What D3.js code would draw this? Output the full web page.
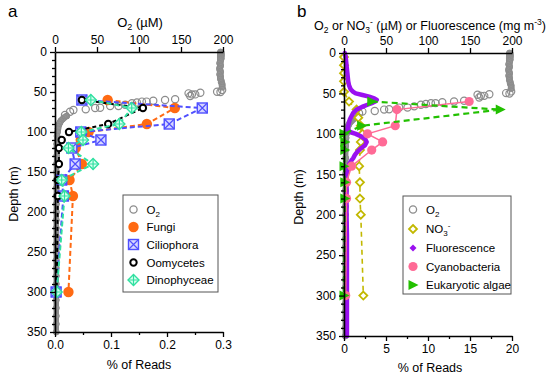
<!DOCTYPE html>
<html><head><meta charset="utf-8">
<script src="https://cdn.jsdelivr.net/npm/d3@7"></script>
<style>
body{margin:0;background:#fff;}
text{font-family:"Liberation Sans",Arial,sans-serif;}
</style></head>
<body>
<svg id="chart" width="550" height="378"></svg>
<script>
// ---------- DATA ----------
const sampleDepths = [60,70,90,100,110,120,140,160,180,300];
const fungi      = [0.094,0.214,0.164,0.060,0.046,0.037,0.048,0.026,0.032,0.024];
const ciliophora = [0.048,0.263,0.204,0.046,0.082,0.030,0.036,0.012,0.015,0.002];
const oomycetes  = [0.048,0.157,0.095,0.025,0.012,0.007,0.007,0.005,0.005,0.003];
const dinophyceae= [0.064,0.137,0.115,0.047,0.050,0.024,0.068,0.012,0.017,0.003];

const cyanobacteria = [14.9,6.3,6.1,2.8,4.6,3.3,0.9,0.3,0.3,0.2];
const eukAlgae      = [3.3,18.6,2.1,0.0,0.1,0.1,0.0,0.1,0.1,0.0];

const no3Depths = [5,15,25,35,48,60,70,80,90,100,110,120,140,160,180,200,300];
const no3Values = [0,0,0,0,0,6,15,17,20,22,20,19,18,19,19,20,23];

// O2 CTD profile: surface, transition, deep
const o2SurfDepth = [0,1,2,3,4,5,6,7,8,9,10,12,14,16,18,20,22,24,26,28,30,32,34,36,38,40,42,44];
const o2SurfVal   = [197,198,197,198,197,198,197,197,198,197,197,197,196,197,197,196,196,197,197,196,197,197,197,198,198,199,199,199];
const o2TransDepth = [47.5,49.6,50,51,51.7,53,53,55,59,60,61,62,62,63,64,66,67.5,67.5,69.6,70,71.7,72.5,74.6,78.7];
const o2TransVal   = [199,193,197,173,159,167,163,161,143,131,117,109,103.5,97.5,91.6,83.6,75.6,65.7,53.7,47.8,36.6,21.9,17.9,11.9];
const o2DeepDepth = [80,82,84,86,88,90,93,96,100,105,110,115,120,130,140,150,160,170,180,190,200,210,220,230,240,250,260,270,280,290,300,310,320,330,340,350];
const o2DeepVal   = [14,11,9,7,6,5,4,3.5,3,2.5,2.5,2,2,2,1.8,1.8,1.7,1.7,1.6,1.6,1.6,1.5,1.5,1.5,1.5,1.5,1.5,1.5,1.5,1.5,1.5,1.5,1.5,1.5,1.5,1.5];

// Fluorescence profile
const fluDepth = [0,5,10,15,20,25,30,35,40,45,48,50,52,54,56,58,60,62,64,66,68,70,74,78,82,86,90,95,98,100,103,106,110,114,118,122,126,130,134,138,142,146,150,175,200,225,250,275,300,325,350];
const fluVal   = [1,2,2.5,3,3.5,4,4.5,5,6,8,11,14,22,30,36,39,37,33,28,23,19,15,11,9,7,6,5,4,8,14,20,25,27,25,20,16,13,11,8,6,5,4,3,3,3,3.5,3.5,3.5,3.5,3.5,3.5];

const o2Ticks = [0,50,100,150,200];
const depthTicks = [0,50,100,150,200,250,300,350];
const readTicksA = [0,0.1,0.2,0.3];
const readTicksB = [0,5,10,15,20];

// ---------- COLORS ----------
const cO2="#8c8c8c", cFungi="#ff6a13", cCilio="#4f4fff", cOomy="#000000", cDino="#2fe0a0";
const cNO3="#c2b800", cFlu="#9a10f0", cCyano="#ff6a96", cEuk="#22c000";

const svg = d3.select("#chart");

function drawO2(g, x, y){
  const line = d3.line().x(d=>x(d[1])).y(d=>y(d[0]));
  const surf = o2SurfDepth.map((d,i)=>[d,o2SurfVal[i]]);
  const deep = o2DeepDepth.map((d,i)=>[d,o2DeepVal[i]]);
  const trans = o2TransDepth.map((d,i)=>[d,o2TransVal[i]]);
  [surf,deep].forEach(arr=>{
    g.append("path").attr("d",line(arr)).attr("fill","none").attr("stroke",cO2)
      .attr("stroke-width",5.5).attr("stroke-linejoin","round").attr("stroke-linecap","round");
    g.selectAll(null).data(arr).enter().append("circle")
      .attr("cx",d=>x(d[1])).attr("cy",d=>y(d[0])).attr("r",3)
      .attr("fill","#959595").attr("stroke",cO2).attr("stroke-width",1);
  });
  g.selectAll(null).data(trans).enter().append("circle")
    .attr("cx",d=>x(d[1])).attr("cy",d=>y(d[0])).attr("r",3.6)
    .attr("fill","none").attr("stroke",cO2).attr("stroke-width",1.2);
}

function marker(g, type, cx, cy, color){
  if(type==="o2"){
    g.append("circle").attr("cx",cx).attr("cy",cy).attr("r",3.6).attr("fill","#fff").attr("stroke",cO2).attr("stroke-width",1.3);
  } else if(type==="fungi"){
    g.append("circle").attr("cx",cx).attr("cy",cy).attr("r",5.2).attr("fill",cFungi);
  } else if(type==="cilio"){
    const s=5;
    g.append("rect").attr("x",cx-s).attr("y",cy-s).attr("width",2*s).attr("height",2*s).attr("fill","#d6d6ff").attr("stroke",cCilio).attr("stroke-width",1.4);
    g.append("path").attr("d",`M${cx-s},${cy-s}L${cx+s},${cy+s}M${cx+s},${cy-s}L${cx-s},${cy+s}`).attr("stroke",cCilio).attr("stroke-width",1.2);
  } else if(type==="oomy"){
    g.append("circle").attr("cx",cx).attr("cy",cy).attr("r",3.2).attr("fill","#fff").attr("stroke",cOomy).attr("stroke-width",2);
  } else if(type==="dino"){
    const s=5.5;
    g.append("path").attr("d",`M${cx},${cy-s}L${cx+s},${cy}L${cx},${cy+s}L${cx-s},${cy}Z`).attr("fill","#d8fff0").attr("stroke",cDino).attr("stroke-width",1.4);
    g.append("path").attr("d",`M${cx},${cy-s}L${cx},${cy+s}M${cx-s},${cy}L${cx+s},${cy}`).attr("stroke",cDino).attr("stroke-width",1.2);
  } else if(type==="no3"){
    const s=4;
    g.append("path").attr("d",`M${cx},${cy-s}L${cx+s},${cy}L${cx},${cy+s}L${cx-s},${cy}Z`).attr("fill","#fff").attr("stroke",cNO3).attr("stroke-width",1.8);
  } else if(type==="flu"){
    const s=3.5;
    g.append("path").attr("d",`M${cx},${cy-s}L${cx+s},${cy}L${cx},${cy+s}L${cx-s},${cy}Z`).attr("fill",cFlu);
  } else if(type==="cyano"){
    g.append("circle").attr("cx",cx).attr("cy",cy).attr("r",4.6).attr("fill",cCyano);
  } else if(type==="euk"){
    g.append("path").attr("d",`M${cx-4.5},${cy-5}L${cx+5.5},${cy}L${cx-4.5},${cy+5}Z`).attr("fill",cEuk);
  }
}

function series(g, x, y, depths, vals, type, color, dash, width){
  const pts = depths.map((d,i)=>[d,vals[i]]);
  const line = d3.line().x(d=>x(d[1])).y(d=>y(d[0]));
  g.append("path").attr("d",line(pts)).attr("fill","none").attr("stroke",color)
    .attr("stroke-width",width).attr("stroke-dasharray",dash||null);
  pts.forEach(p=>marker(g,type,x(p[1]),y(p[0]),color));
}

function axes(g, xTop, xBot, y, botTicks, botMinor, botFmt, x0, yTop, yBot){
  g.append("g").attr("transform",`translate(0,${yTop})`)
    .call(d3.axisTop(xTop).tickValues(o2Ticks).tickSize(5).tickSizeOuter(0).tickFormat(d3.format("d")));
  g.append("g").attr("transform",`translate(0,${yBot})`)
    .call(d3.axisBottom(xBot).tickValues(botTicks).tickSize(5).tickSizeOuter(0).tickFormat(botFmt));
  g.append("g").attr("transform",`translate(0,${yBot})`)
    .call(d3.axisBottom(xBot).tickValues(botMinor).tickSize(3).tickSizeOuter(0).tickFormat(""))
    .select(".domain").remove();
  g.append("g").attr("transform",`translate(${x0},0)`)
    .call(d3.axisLeft(y).tickValues(depthTicks).tickSize(5).tickSizeOuter(0).tickFormat(d3.format("d")));
  g.append("g").attr("transform",`translate(${x0},0)`)
    .call(d3.axisLeft(y).tickValues(d3.range(0,351,10).filter(v=>v%50!==0)).tickSize(3).tickSizeOuter(0).tickFormat(""))
    .select(".domain").remove();
  g.selectAll(".domain").attr("stroke","#000").attr("stroke-width",1.6);
  g.selectAll(".tick line").attr("stroke","#000").attr("stroke-width",1.3);
  g.selectAll(".tick text").attr("font-size",12).attr("fill","#000").attr("font-family","Liberation Sans, Arial, sans-serif");
}

function legend(g, x, y, w, h, rows, ys, mx, tx){
  g.append("rect").attr("x",x).attr("y",y).attr("width",w).attr("height",h).attr("fill","#fff").attr("stroke","#555").attr("stroke-width",1);
  rows.forEach((r,i)=>{
    marker(g,r.type,mx,ys[i],null);
    const t=g.append("text").attr("x",tx).attr("y",ys[i]+4).attr("font-size",11.5).attr("fill","#000");
    r.label(t);
  });
}

// ---------- PANEL A ----------
const ga = svg.append("g");
const xO2a = d3.scaleLinear().domain([0,200]).range([55,223]);
const xPa  = d3.scaleLinear().domain([0,0.3]).range([55,223]);
const ya   = d3.scaleLinear().domain([0,350]).range([52,332]);

drawO2(ga, xO2a, ya);
series(ga,xPa,ya,sampleDepths,fungi,"fungi",cFungi,"5,3",2);
series(ga,xPa,ya,sampleDepths,ciliophora,"cilio",cCilio,"5,3",2);
series(ga,xPa,ya,sampleDepths,oomycetes,"oomy",cOomy,"4,3",2);
series(ga,xPa,ya,sampleDepths,dinophyceae,"dino",cDino,"5,3",2);
axes(ga,xO2a,xPa,ya,readTicksA,[0.05,0.15,0.25],d3.format(".1f"),55,52,332);

ga.append("text").attr("x",8).attr("y",17).attr("font-size",17).text("a");
const ta = ga.append("text").attr("x",140).attr("y",27).attr("text-anchor","middle").attr("font-size",13);
ta.append("tspan").text("O");
ta.append("tspan").attr("font-size",9).attr("dy",3).text("2");
ta.append("tspan").attr("dy",-3).text(" (µM)");
ga.append("text").attr("x",139).attr("y",369).attr("text-anchor","middle").attr("font-size",12.5).text("% of Reads");
ga.append("text").attr("transform","translate(18,194) rotate(-90)").attr("text-anchor","middle").attr("font-size",12.5).text("Depth (m)");

legend(ga,123,195,95,97,[
  {type:"o2",label:t=>{t.append("tspan").text("O");t.append("tspan").attr("font-size",8).attr("dy",3).text("2");}},
  {type:"fungi",label:t=>t.text("Fungi")},
  {type:"cilio",label:t=>t.text("Ciliophora")},
  {type:"oomy",label:t=>t.text("Oomycetes")},
  {type:"dino",label:t=>t.text("Dinophyceae")}
],[209.5,227,244.5,262.5,280],133.5,146.5);

// ---------- PANEL B ----------
const gb = svg.append("g");
const xO2b = d3.scaleLinear().domain([0,200]).range([344,512]);
const xPb  = d3.scaleLinear().domain([0,20]).range([344,512]);
const yb   = d3.scaleLinear().domain([0,350]).range([53,336]);

drawO2(gb, xO2b, yb);
series(gb,xO2b,yb,no3Depths,no3Values,"no3",cNO3,"5,4",1.6);
(function(){
  const pts = fluDepth.map((d,i)=>[d,fluVal[i]]);
  const line = d3.line().x(d=>xO2b(d[1])).y(d=>yb(d[0]));
  gb.append("path").attr("d",line(pts)).attr("fill","none").attr("stroke",cFlu).attr("stroke-width",4.5)
    .attr("stroke-linejoin","round").attr("stroke-linecap","round");
})();
series(gb,xPb,yb,sampleDepths,cyanobacteria,"cyano",cCyano,null,1.5);
series(gb,xPb,yb,sampleDepths,eukAlgae,"euk",cEuk,"6,4",2.2);
axes(gb,xO2b,xPb,yb,readTicksB,[2.5,7.5,12.5,17.5],d3.format("d"),344,53,336);

gb.append("text").attr("x",297).attr("y",17).attr("font-size",17).text("b");
const tb = gb.append("text").attr("x",430).attr("y",30).attr("text-anchor","middle").attr("font-size",12.5);
tb.append("tspan").text("O");
tb.append("tspan").attr("font-size",8.5).attr("dy",3).text("2");
tb.append("tspan").attr("dy",-3).text(" or NO");
tb.append("tspan").attr("font-size",8.5).attr("dy",3).text("3");
tb.append("tspan").attr("font-size",8.5).attr("dy",-8).text("-");
tb.append("tspan").attr("dy",5).text(" (µM) or Fluorescence (mg m");
tb.append("tspan").attr("font-size",8.5).attr("dy",-5).text("-3");
tb.append("tspan").attr("dy",5).text(")");
gb.append("text").attr("x",430).attr("y",372).attr("text-anchor","middle").attr("font-size",12.5).text("% of Reads");
gb.append("text").attr("transform","translate(303,197) rotate(-90)").attr("text-anchor","middle").attr("font-size",12.5).text("Depth (m)");

legend(gb,403,196,108,98,[
  {type:"o2",label:t=>{t.append("tspan").text("O");t.append("tspan").attr("font-size",8).attr("dy",3).text("2");}},
  {type:"no3",label:t=>{t.append("tspan").text("NO");t.append("tspan").attr("font-size",8).attr("dy",3).text("3");t.append("tspan").attr("font-size",8).attr("dy",-8).text("-");}},
  {type:"flu",label:t=>t.text("Fluorescence")},
  {type:"cyano",label:t=>t.text("Cyanobacteria")},
  {type:"euk",label:t=>t.text("Eukaryotic algae")}
],[209.5,229,248,266.5,285],413,426);
</script>
</body></html>
